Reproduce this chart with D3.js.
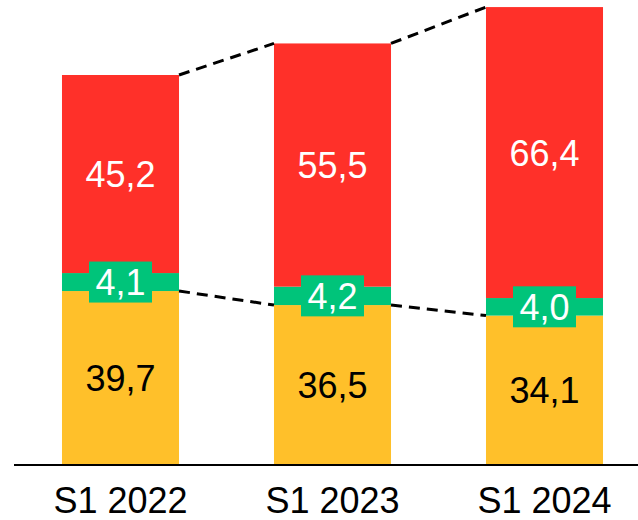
<!DOCTYPE html>
<html>
<head>
<meta charset="utf-8">
<script src="https://cdn.jsdelivr.net/npm/d3@7"></script>
<style>
  html, body { margin: 0; padding: 0; background: #fff; }
  svg { display: block; }
  text { font-family: "Liberation Sans", Arial, sans-serif; }
</style>
</head>
<body>
<svg id="chart" width="638" height="520"></svg>
<script>
const categories = ["S1 2022", "S1 2023", "S1 2024"];
const bottomValues = [39.7, 36.5, 34.1];
const middleValues = [4.1, 4.2, 4.0];
const topValues = [45.2, 55.5, 66.4];

const colors = { bottom: "#FFC02A", middle: "#00C47A", top: "#FF3029" };
const fmt = v => String(v.toFixed(1)).replace(".", ",");

const svg = d3.select("#chart");
const baseY = 465;

const x = d3.scaleBand()
  .domain(categories)
  .range([14.5, 650.5])
  .paddingInner(0.448)
  .paddingOuter(0.224);

const y = d3.scaleLinear()
  .domain([0, 89])
  .range([baseY, 75]);

const data = categories.map((c, i) => {
  const b = bottomValues[i], m = middleValues[i], t = topValues[i];
  return { cat: c, b, m, t, y0: 0, y1: b, y2: b + m, y3: b + m + t };
});

const bw = x.bandwidth();

// bars
const g = svg.append("g");
data.forEach(d => {
  g.append("rect").attr("x", x(d.cat)).attr("width", bw)
    .attr("y", y(d.y1)).attr("height", y(d.y0) - y(d.y1)).attr("fill", colors.bottom);
  g.append("rect").attr("x", x(d.cat)).attr("width", bw)
    .attr("y", y(d.y2)).attr("height", y(d.y1) - y(d.y2)).attr("fill", colors.middle);
  g.append("rect").attr("x", x(d.cat)).attr("width", bw)
    .attr("y", y(d.y3)).attr("height", y(d.y2) - y(d.y3)).attr("fill", colors.top);
});

// dashed connectors
for (let i = 0; i < data.length - 1; i++) {
  const a = data[i], b = data[i + 1];
  [["y3"], ["y1"]].forEach(([k]) => {
    svg.append("line")
      .attr("x1", x(a.cat) + bw).attr("y1", y(a[k]))
      .attr("x2", x(b.cat)).attr("y2", y(b[k]))
      .attr("stroke", "#000").attr("stroke-width", 3)
      .attr("stroke-dasharray", "11,7");
  });
}

// labels
data.forEach(d => {
  const cx = x(d.cat) + bw / 2;
  svg.append("text").attr("x", cx).attr("y", (y(d.y2) + y(d.y3)) / 2)
    .attr("dy", "0.36em").attr("text-anchor", "middle")
    .attr("font-size", 36).attr("fill", "#fff").text(fmt(d.t));
  svg.append("text").attr("x", cx).attr("y", (y(d.y0) + y(d.y1)) / 2)
    .attr("dy", "0.36em").attr("text-anchor", "middle")
    .attr("font-size", 36).attr("fill", "#000").text(fmt(d.b));
  const my = (y(d.y1) + y(d.y2)) / 2;
  svg.append("rect").attr("x", cx - 31.5).attr("y", my - 20.5)
    .attr("width", 63).attr("height", 41).attr("fill", colors.middle);
  svg.append("text").attr("x", cx).attr("y", my)
    .attr("dy", "0.36em").attr("text-anchor", "middle")
    .attr("font-size", 36).attr("fill", "#fff").text(fmt(d.m));
});

// axis
const axis = d3.axisBottom(x).tickSize(0).tickPadding(22);
const ax = svg.append("g").attr("transform", `translate(0,${baseY})`).call(axis);
ax.select(".domain").remove();
ax.selectAll("text").attr("font-size", 36).attr("fill", "#000")
  .attr("font-family", '"Liberation Sans", Arial, sans-serif');
svg.append("line").attr("x1", 14).attr("x2", 638).attr("y1", baseY).attr("y2", baseY)
  .attr("stroke", "#000").attr("stroke-width", 2);
</script>
</body>
</html>
